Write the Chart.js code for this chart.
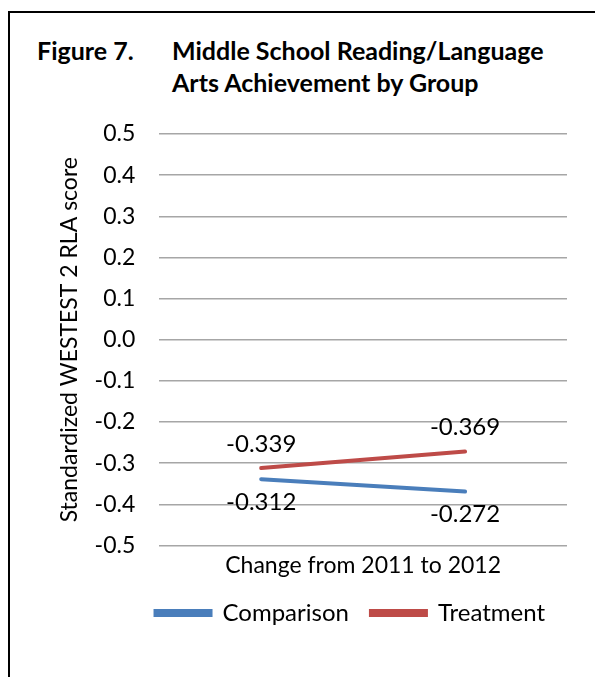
<!DOCTYPE html>
<html>
<head>
  <meta charset="UTF-8">
  <title>Figure 7</title>
  <script src="https://cdn.jsdelivr.net/npm/chart.js"></script>
  <style>
    body {
      margin: 0;
      font-family: Lato, Arial;
      background: #fff;
    }
    .frame {
      position: absolute;
      left: 8px;
      top: 11px;
      width: 600px;
      height: 680px;
      border-left: 2px solid #000;
      border-top: 2px solid #000;
    }
    .title {
      position: absolute;
      top: 34px;
      font-weight: bold;
      font-size: 25px;
      line-height: 32px;
      color: #000;
    }
    #wrap {
      position: absolute;
      left: 0;
      top: 0;
      width: 595px;
      height: 677px;
    }
  </style>
</head>
<body>
  <div class="frame"></div>
  <div class="title" style="left:37px">Figure 7.</div>
  <div class="title" style="left:172px">Middle School Reading/Language<br>Arts Achievement by Group</div>

  <div id="wrap"><canvas id="grafik"></canvas></div>

  <script>
    const categories = ['2011', '2012'];
    const comparison = [-0.339, -0.369];
    const treatment = [-0.312, -0.272];
    const yTicks = [0.5, 0.4, 0.3, 0.2, 0.1, 0.0, -0.1, -0.2, -0.3, -0.4, -0.5];

    // labels as printed in the figure: comparison values sit above the
    // treatment line, treatment values sit below the comparison line
    const labelsAboveTreatment = comparison.map(v => v.toFixed(3));
    const labelsBelowComparison = treatment.map(v => v.toFixed(3));

    const labelPlugin = {
      id: 'dataLabels',
      afterDatasetsDraw(chart) {
        const c = chart.ctx;
        c.save();
        c.font = '24px Lato, Arial';
        c.fillStyle = '#000';
        c.textAlign = 'center';
        c.textBaseline = 'middle';
        chart.getDatasetMeta(1).data.forEach((pt, i) => {
          c.fillText(labelsAboveTreatment[i], pt.x, pt.y - 24);
        });
        chart.getDatasetMeta(0).data.forEach((pt, i) => {
          c.fillText(labelsBelowComparison[i], pt.x, pt.y + 23);
        });
        c.restore();
      }
    };

    const ctx = document.getElementById('grafik').getContext('2d');
    const chart = new Chart(ctx, {
      type: 'line',
      data: {
        labels: categories,
        datasets: [
          {
            label: 'Comparison',
            data: comparison,
            borderColor: '#4a7ebb',
            backgroundColor: '#4a7ebb',
            borderWidth: 4,
            pointRadius: 0,
            borderCapStyle: 'round',
            fill: false
          },
          {
            label: 'Treatment',
            data: treatment,
            borderColor: '#be4b48',
            backgroundColor: '#be4b48',
            borderWidth: 4,
            pointRadius: 0,
            borderCapStyle: 'round',
            fill: false
          }
        ]
      },
      options: {
        responsive: true,
        maintainAspectRatio: false,
        animation: false,
        layout: {
          padding: { left: 54, right: 28, top: 134, bottom: 42 }
        },
        scales: {
          x: {
            offset: true,
            grid: { display: false, drawTicks: false },
            border: { display: false },
            ticks: { display: false },
            title: {
              display: true,
              text: 'Change from 2011 to 2012',
              color: '#000',
              font: { family: 'Lato, Arial', size: 23 },
              padding: { top: 6, bottom: 0 }
            }
          },
          y: {
            min: -0.5,
            max: 0.5,
            afterBuildTicks(axis) {
              axis.ticks = yTicks.map(v => ({ value: v }));
            },
            ticks: {
              color: '#000',
              font: { family: 'Lato, Arial', size: 23 },
              padding: 24,
              callback: v => v.toFixed(1)
            },
            grid: { color: '#a6a6a6', lineWidth: 1.5, drawTicks: false },
            border: { display: false },
            title: {
              display: true,
              text: 'Standardized WESTEST 2 RLA score',
              color: '#000',
              font: { family: 'Lato, Arial', size: 23 },
              padding: { top: 2, bottom: -13 }
            }
          }
        },
        plugins: {
          legend: {
            position: 'bottom',
            align: 'end',
            labels: {
              boxWidth: 55,
              boxHeight: 4,
              padding: 22,
              color: '#000',
              font: { family: 'Lato, Arial', size: 24 }
            }
          },
          tooltip: { enabled: false }
        }
      },
      plugins: [labelPlugin]
    });
  </script>
</body>
</html>
